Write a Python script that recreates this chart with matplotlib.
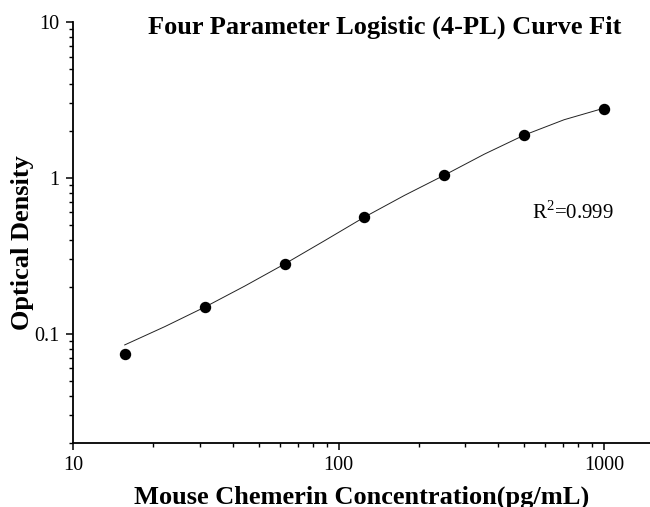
import matplotlib
matplotlib.use("Agg")
import matplotlib.pyplot as plt
from matplotlib.ticker import LogLocator, NullFormatter, FixedLocator, FixedFormatter

plt.rcParams['font.family'] = ['Liberation Serif', 'DejaVu Serif']
plt.rcParams['mathtext.fontset'] = 'custom'
plt.rcParams['mathtext.rm'] = 'Liberation Serif'

# Standards (concentration, OD)
conc = [15.6, 31.25, 62.5, 125, 250, 500, 1000]
od = [0.074, 0.148, 0.280, 0.562, 1.045, 1.89, 2.78]

# Fitted curve
curve_x = [15.6, 22.1, 31.25, 44.2, 62.5, 88.4, 125, 177, 250, 354, 500, 707, 1000]
curve_y = [0.0847, 0.111, 0.148, 0.202, 0.280, 0.395, 0.560, 0.772, 1.04, 1.42, 1.88, 2.36, 2.80]

xticks = [10, 100, 1000]
xticklabels = ["10", "100", "1000"]
yticks = [0.1, 1, 10]
yticklabels = ["0.1", "1", "10"]

fig = plt.figure(figsize=(6.5, 5.07), dpi=100)
ax = fig.add_axes([0.113, 0.127, 0.887, 0.8296])

ax.plot(curve_x, curve_y, color='#222222', lw=0.7, zorder=2)
ax.plot(conc, od, 'o', color='black', ms=7.2, zorder=3)

ax.set_xscale('log')
ax.set_yscale('log')
ax.set_xlim(10, 1490)
ax.set_ylim(0.02, 10)

ax.xaxis.set_major_locator(FixedLocator(xticks))
ax.xaxis.set_major_formatter(FixedFormatter(xticklabels))
ax.yaxis.set_major_locator(FixedLocator(yticks))
ax.yaxis.set_major_formatter(FixedFormatter(yticklabels))
ax.xaxis.set_minor_locator(LogLocator(base=10, subs=range(2, 10)))
ax.yaxis.set_minor_locator(LogLocator(base=10, subs=range(2, 10)))
ax.xaxis.set_minor_formatter(NullFormatter())
ax.yaxis.set_minor_formatter(NullFormatter())

for s in ['top', 'right']:
    ax.spines[s].set_visible(False)
for s in ['left', 'bottom']:
    ax.spines[s].set_linewidth(1.3)

ax.tick_params(which='major', direction='out', length=5, width=1.1, labelsize=14.5, pad=5)
ax.tick_params(which='minor', direction='out', length=3, width=1.0)

ax.set_xlabel('Mouse Chemerin Concentration(pg/mL)', fontsize=19, fontweight='bold')
ax.set_ylabel('Optical Density', fontsize=19, fontweight='bold')
ax.xaxis.set_label_coords(0.5004, -0.101)
ax.yaxis.set_label_coords(-0.0685, 0.475)

fig.text(385 / 650, 1 - 27 / 507, 'Four Parameter Logistic (4-PL) Curve Fit',
         ha='center', va='center', fontsize=19, fontweight='bold')
ax.text(533, 0.597, r'R$^2$=0.999', fontsize=15, ha='left', va='center')

fig.savefig('out.png', dpi=100)
